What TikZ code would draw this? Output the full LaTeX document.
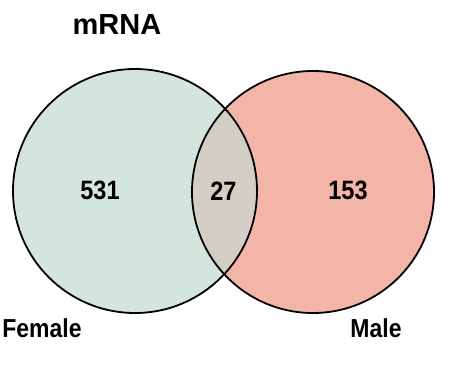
\documentclass[tikz,border=0pt]{standalone}
\usepackage{fontspec}
\setmainfont{Liberation Sans}
\usepackage{xcolor}
\usepackage{graphicx}
\usepackage{tikz}
\usetikzlibrary{positioning}

\definecolor{femfill}{RGB}{212,229,222}
\definecolor{malfill}{RGB}{244,181,169}
\definecolor{bothfill}{RGB}{212,207,198}
\newcommand{\tallbf}[1]{\scalebox{1}[1.13]{#1}}

\begin{document}
\begin{tikzpicture}[
  x=1pt, y=-1pt,
  ring/.style={draw=black, line width=1.8pt},
  count/.style={font=\fontsize{23.5}{24}\selectfont\bfseries, anchor=base, inner sep=0pt},
  lbl/.style={font=\fontsize{23}{24}\selectfont\bfseries, anchor=base, inner sep=0pt},
  ttl/.style={font=\fontsize{29}{29}\selectfont\bfseries, anchor=base, inner sep=0pt}
]
\useasboundingbox[fill=white] (0,0) rectangle (471,369);
\coordinate (cF) at (135,191);
\coordinate (cM) at (313,192);

% fills
\fill[femfill] (cF) circle (122pt);
\fill[malfill] (cM) circle (121pt);
\begin{scope}
  \clip (cF) circle (122pt);
  \fill[bothfill] (cM) circle (121pt);
\end{scope}
\draw[ring] (cF) circle (122pt);
\draw[ring] (cM) circle (121pt);

\node[ttl] (title) at (117,35) {mRNA};
\node[count] (onlyF) at (100,199) {\tallbf{531}};
\node[count] (common) at (223.5,200) {\tallbf{27}};
\node[count] (onlyM) at (348,199) {\tallbf{153}};
\node[lbl] (female) at (42,337) {\tallbf{Female}};
\node[lbl] (male) at (376,337) {\tallbf{Male}};
\end{tikzpicture}
\end{document}
